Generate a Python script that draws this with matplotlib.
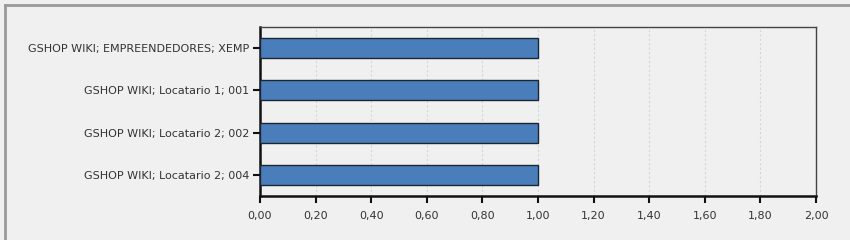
import matplotlib.pyplot as plt
from matplotlib.lines import Line2D

# data
categories = [
    "GSHOP WIKI; EMPREENDEDORES; XEMP",
    "GSHOP WIKI; Locatario 1; 001",
    "GSHOP WIKI; Locatario 2; 002",
    "GSHOP WIKI; Locatario 2; 004",
]
values = [1.0, 1.0, 1.0, 1.0]
xticks = [0.0, 0.2, 0.4, 0.6, 0.8, 1.0, 1.2, 1.4, 1.6, 1.8, 2.0]

bg = "#f0f0f0"
fig = plt.figure(figsize=(8.5, 2.4), dpi=100, facecolor=bg)
ax = fig.add_axes([260 / 850, 1 - 196 / 240, (816 - 260) / 850, (196 - 27) / 240])
ax.set_facecolor(bg)

ypos = list(range(len(categories)))
ax.barh(ypos, values, height=0.47, color="#4a7ebb", edgecolor="#1a2633", linewidth=1.0, zorder=3)

ax.set_xlim(0, 2.0)
ax.set_ylim(len(categories) - 0.5, -0.5)
ax.set_yticks(ypos)
ax.set_yticklabels(categories)
ax.set_xticks(xticks)
ax.set_xticklabels([f"{t:.2f}".replace(".", ",") for t in xticks])

ax.grid(axis="x", color="#d6d6d6", linestyle=(0, (2, 2)), linewidth=0.8, zorder=0)
ax.tick_params(axis="both", direction="out", length=5, width=1.5, color="#111111",
               labelsize=8, labelcolor="#333333", pad=3)
ax.tick_params(axis="x", pad=6)

for side in ["left", "bottom"]:
    ax.spines[side].set_linewidth(1.8)
    ax.spines[side].set_color("#111111")
for side in ["top", "right"]:
    ax.spines[side].set_linewidth(1.0)
    ax.spines[side].set_color("#444444")

# grey frame of the panel, top and left edges
fig.add_artist(Line2D([5 / 850, 1], [1 - 5 / 240, 1 - 5 / 240], color="#9a9a9a", linewidth=2))
fig.add_artist(Line2D([5 / 850, 5 / 850], [0, 1 - 5 / 240], color="#9a9a9a", linewidth=2))

fig.savefig("out.png", dpi=100, facecolor=bg)
